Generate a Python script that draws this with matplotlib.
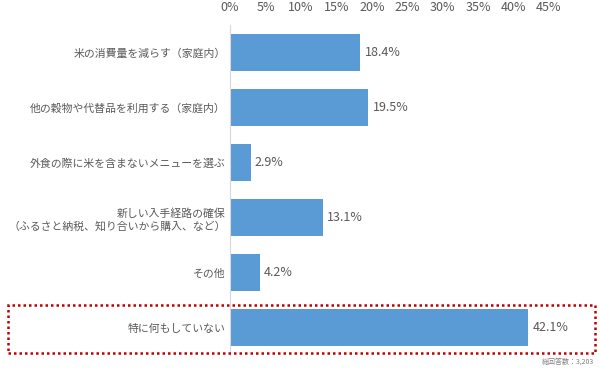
import matplotlib.pyplot as plt
from matplotlib.patches import Rectangle

plt.rcParams['font.family'] = ['Noto Sans CJK JP', 'DejaVu Sans']

labels = ['米の消費量を減らす（家庭内）',
          '他の穀物や代替品を利用する（家庭内）',
          '外食の際に米を含まないメニューを選ぶ',
          '新しい入手経路の確保\n（ふるさと納税、知り合いから購入、など）',
          'その他',
          '特に何もしていない']
values = [18.4, 19.5, 2.9, 13.1, 4.2, 42.1]
ticks = [0, 5, 10, 15, 20, 25, 30, 35, 40, 45]

gray = '#595959'
fig = plt.figure(figsize=(6, 3.7), dpi=100)
ax = fig.add_axes([0.3833, 0.0405, 0.5317, 0.8915])

y = list(range(len(labels)))
ax.barh(y, values, height=0.67, color='#5B9BD5')
ax.set_ylim(len(labels) - 0.5, -0.5)
ax.set_xlim(0, 45)

for yi, v in zip(y, values):
    ax.text(v + 0.6, yi, f'{v}%', va='center', ha='left', fontsize=9, color=gray, clip_on=False)

ax.set_yticks(y)
ax.set_yticklabels(labels, fontsize=7.8, color=gray, linespacing=1.3)
ax.tick_params(axis='y', length=0, pad=3)
ax.xaxis.tick_top()
ax.set_xticks(ticks)
ax.set_xticklabels([f'{t}%' for t in ticks], fontsize=9, color=gray)
ax.tick_params(axis='x', length=0, pad=8)

for s in ['top', 'right', 'bottom']:
    ax.spines[s].set_visible(False)
ax.spines['left'].set_color('#D9D9D9')

# dotted highlight around the last row
rect = Rectangle((8 / 600, 17 / 370), 587 / 600, 48 / 370, transform=fig.transFigure,
                 fill=False, edgecolor='#C00000', linestyle=(0, (1, 1.2)), linewidth=1.8)
fig.patches.append(rect)

fig.text(0.99, 0.012, '総回答数：3,203', ha='right', va='bottom', fontsize=5, color='#7F7F7F')

fig.savefig('out.png', dpi=100)
